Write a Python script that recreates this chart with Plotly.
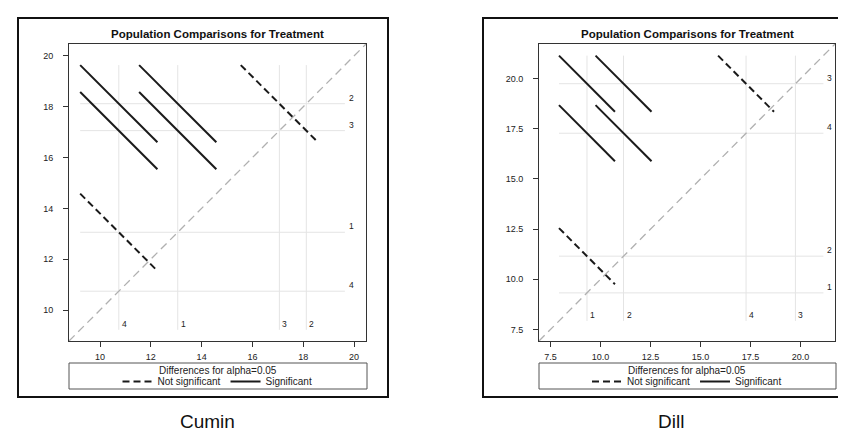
import plotly.graph_objects as go
from itertools import combinations

W, H = 846, 433

# ---------------- data ----------------
levels = ["1", "2", "3", "4"]
cumin_means = [13.06, 18.12, 17.06, 10.74]
dill_means = [9.32, 11.15, 19.75, 17.28]
cumin_lsd = 3.04   # CI half-width of a pairwise difference (alpha=0.05)
dill_lsd = 2.80
cumin_ticks = [10, 12, 14, 16, 18, 20]
dill_ticks = [7.5, 10.0, 12.5, 15.0, 17.5, 20.0]
alpha = 0.05
panel_names = ["Cumin", "Dill"]

FONT = "Liberation Sans, Arial, sans-serif"
TXT = "#222222"


def px(x):
    return x / W


def py(y):
    return 1 - y / H


panels = [
    dict(name=panel_names[0], means=cumin_means, lsd=cumin_lsd, ticks=cumin_ticks,
         fmt="d", rng=[8.78, 20.47], box=(61, 358), outer=(10, 380), capx=199,
         xa="x", ya="y", leg="legend"),
    dict(name=panel_names[1], means=dill_means, lsd=dill_lsd, ticks=dill_ticks,
         fmt=".1f", rng=[6.92, 21.73], box=(531, 827), outer=(475, 856), capx=663,
         xa="x2", ya="y2", leg="legend2"),
]

fig = go.Figure()
annotations = []
shapes = []
layout_axes = {}
legends = {}

for k, p in enumerate(panels):
    means = p["means"]
    h = p["lsd"] / 2.0
    # pair segments: x = lower mean, y = higher mean
    segs = []
    for i, j in combinations(range(len(levels)), 2):
        a, b = (i, j) if means[i] < means[j] else (j, i)
        mx, my = means[a], means[b]
        sig = abs(my - mx) > p["lsd"]
        segs.append(((mx - h, my + h), (mx + h, my - h), sig))
    allc = [c for s in segs for pt in s[:2] for c in pt]
    lo, hi = min(allc), max(allc)

    # reference lines at the means
    gx, gy = [], []
    for m in means:
        gx += [lo, hi, None, m, m, None]
        gy += [m, m, None, lo, hi, None]
    fig.add_trace(go.Scatter(x=gx, y=gy, mode="lines", xaxis=p["xa"], yaxis=p["ya"],
                             line=dict(color="#e4e4e4", width=1), showlegend=False,
                             hoverinfo="skip"))
    # diagonal
    r0, r1 = p["rng"]
    fig.add_trace(go.Scatter(x=[r0, r1], y=[r0, r1], mode="lines", xaxis=p["xa"], yaxis=p["ya"],
                             line=dict(color="#b0b0b0", width=1.3, dash="8px,5px"),
                             showlegend=False, hoverinfo="skip"))
    # segments
    for sigflag, name, dash in [(False, "Not significant", "7px,4px"), (True, "Significant", "solid")]:
        sx, sy = [], []
        for (p0, p1, s) in segs:
            if s == sigflag:
                sx += [p0[0], p1[0], None]
                sy += [p0[1], p1[1], None]
        fig.add_trace(go.Scatter(x=sx, y=sy, mode="lines", xaxis=p["xa"], yaxis=p["ya"],
                                 name=name, legend=p["leg"],
                                 line=dict(color="#1a1a1a", width=2, dash=dash)))

    # labels
    for lab, m in zip(levels, means):
        annotations.append(dict(x=hi, y=m, xref=p["xa"], yref=p["ya"], text=lab,
                                showarrow=False, xanchor="left", yanchor="bottom",
                                xshift=2, yshift=-1, font=dict(size=8.5, color=TXT, family=FONT)))
        annotations.append(dict(x=m, y=lo, xref=p["xa"], yref=p["ya"], text=lab,
                                showarrow=False, xanchor="left", yanchor="bottom",
                                xshift=1, yshift=-1, font=dict(size=8.5, color=TXT, family=FONT)))

    x0, x1 = p["box"]
    sfx = "" if k == 0 else "2"
    axcommon = dict(range=p["rng"], showgrid=False, zeroline=False, showline=True,
                    mirror=True, linecolor="#333333", linewidth=1, ticks="outside",
                    ticklen=5, tickcolor="#333333", tickvals=p["ticks"],
                    tickformat=p["fmt"], tickfont=dict(size=9, color=TXT, family=FONT))
    layout_axes["xaxis" + sfx] = dict(axcommon, domain=[px(x0), px(x1)],
                                      anchor="y" + sfx, ticklabelstandoff=2)
    layout_axes["yaxis" + sfx] = dict(axcommon, domain=[py(333), py(36)],
                                      anchor="x" + sfx, ticklabelstandoff=8)

    cx = (x0 + x1) / 2
    # panel title
    annotations.append(dict(x=px(cx), y=py(26), xref="paper", yref="paper",
                            text="<b>Population Comparisons for Treatment</b>",
                            showarrow=False, xanchor="center", yanchor="middle",
                            font=dict(size=11.5, color="#111111", family=FONT)))
    # caption under panel
    annotations.append(dict(x=px(p["capx"]), y=py(413), xref="paper", yref="paper",
                            text=p["name"], showarrow=False, xanchor="center",
                            yanchor="middle", font=dict(size=19, color="#111111", family=FONT)))
    # outer box
    ox0, ox1 = p["outer"]
    shapes.append(dict(type="rect", xref="paper", yref="paper", x0=px(ox0), x1=px(ox1),
                       y0=py(389), y1=py(10), line=dict(color="#111111", width=2)))
    # legend box + legend title
    shapes.append(dict(type="rect", xref="paper", yref="paper", x0=px(x0), x1=px(x1 + 1),
                       y0=py(381), y1=py(355), line=dict(color="#555555", width=1)))
    annotations.append(dict(x=px(cx), y=py(362.5), xref="paper", yref="paper",
                            text="Differences for alpha=%.2f" % alpha, showarrow=False,
                            xanchor="center", yanchor="middle",
                            font=dict(size=10, color=TXT, family=FONT)))
    legends[p["leg"]] = dict(orientation="h", x=px(cx), xanchor="center", y=py(373.5),
                             yanchor="middle", bgcolor="rgba(0,0,0,0)", borderwidth=0,
                             font=dict(size=10, color=TXT, family=FONT),
                             itemwidth=30, tracegroupgap=0)

fig.update_layout(width=W, height=H, margin=dict(l=0, r=0, t=0, b=0),
                  paper_bgcolor="white", plot_bgcolor="white",
                  annotations=annotations, shapes=shapes, **layout_axes, **legends)

fig.write_html("out.html")
